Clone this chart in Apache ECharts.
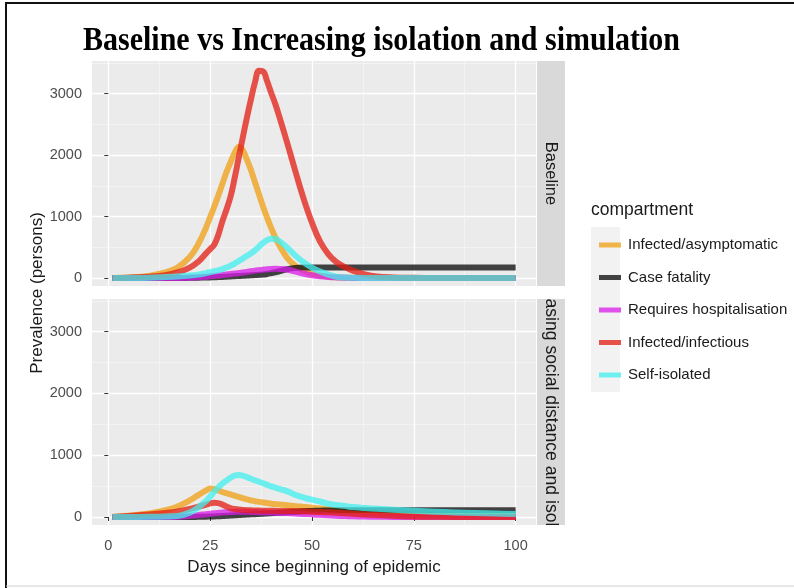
<!DOCTYPE html>
<html><head><meta charset="utf-8">
<script src="https://cdn.jsdelivr.net/npm/echarts@6/dist/echarts.min.js"></script>
<style>html,body{margin:0;padding:0;background:#fff}#c{width:794px;height:588px}</style>
</head><body><div id="c"></div>
<script>
// ---------- data ----------
const titleText = 'Baseline vs Increasing isolation and simulation';
const panels = ['Baseline', 'Increasing social distance and isolation'];
const compartments = ['Infected/asymptomatic', 'Case fatality', 'Requires hospitalisation', 'Infected/infectious', 'Self-isolated'];
const days = [1,5,10,14,17,20,22,24,25,26,27,28,29,30,31,32,33,34,35,36,37,38,39,40,41,42,44,46,48,50,52,54,56,58,60,63,66,70,75,80,85,90,95,100];

// Baseline panel
const baseAsymptomatic = [0,8,35,90,170,340,540,820,990,1160,1340,1530,1720,1880,2030,2130,2080,1930,1760,1560,1360,1160,980,810,660,530,320,195,120,70,40,22,12,6,3,0,0,0,0,0,0,0,0,0];
const baseFatality     = [0,0,0,0,0,3,5,8,10,12,15,18,21,25,29,33,36,40,44,48,52,56,66,80,94,110,145,165,172,172,172,172,172,172,172,172,172,172,172,172,172,172,172,172];
const baseHospital     = [0,0,0,0,0,5,12,22,28,34,40,48,56,64,72,80,90,100,110,120,128,136,143,148,150,148,135,105,70,45,28,17,10,5,2,0,0,0,0,0,0,0,0,0];
const baseInfectious   = [0,5,20,45,90,170,260,400,470,540,700,920,1110,1320,1620,1950,2280,2600,2900,3180,3370,3360,3200,3010,2830,2620,2180,1720,1280,900,590,390,260,180,120,60,25,10,3,0,0,0,0,0];
const baseIsolated     = [0,0,5,15,25,40,55,80,95,110,125,145,170,200,235,275,315,360,400,450,510,570,615,640,635,600,490,360,255,170,105,55,20,8,3,0,0,0,0,0,0,0,0,0];

// Increasing social distance and isolation panel
const incAsymptomatic = [0,20,55,110,170,270,350,430,460,450,430,405,385,365,345,325,305,285,270,255,245,235,225,215,208,202,190,175,163,150,137,125,113,102,92,80,70,58,46,36,29,23,18,15];
const incFatality     = [0,0,0,0,0,0,2,5,7,9,12,15,18,22,26,30,34,38,42,46,50,54,58,62,66,70,78,86,93,98,102,105,107,108,109,110,110,110,110,110,110,110,110,110];
const incHospital     = [0,0,0,0,5,18,30,45,52,60,66,72,76,80,82,84,84,83,82,80,78,76,74,72,70,68,63,57,50,42,34,27,20,14,10,6,3,1,0,0,0,0,0,0];
const incInfectious   = [0,15,40,65,90,130,165,200,220,230,225,200,170,145,130,120,115,110,108,105,103,102,101,100,99,98,96,94,92,85,80,75,68,60,52,40,30,18,8,3,0,0,0,0];
const incIsolated     = [0,0,2,6,15,70,150,260,330,410,480,540,590,635,670,680,670,645,620,595,570,545,520,495,475,455,415,355,315,280,250,215,195,180,160,145,132,118,100,85,73,63,56,50];

const xTicks = [0, 25, 50, 75, 100];
const xMinor = [12.5, 37.5, 62.5, 87.5];
const yTicks = [0, 1000, 2000, 3000];
const yMinor = [500, 1500, 2500, 3500];

const panelData = [
  [baseAsymptomatic, baseFatality, baseHospital, baseInfectious, baseIsolated],
  [incAsymptomatic, incFatality, incHospital, incInfectious, incIsolated]
];
const colors = ['rgba(239,159,18,0.75)', 'rgba(15,15,15,0.78)', 'rgba(218,25,231,0.75)', 'rgba(226,30,20,0.76)', 'rgba(66,239,239,0.75)'];

// ---------- layout ----------
const FONT = 'Liberation Sans, Arial, sans-serif';
const G = [{top: 61, height: 225}, {top: 299, height: 226}];
const LEFT = 92, WIDTH = 444;
const plain = v => String(v);

const grids = G.map(g => ({left: LEFT, top: g.top, width: WIDTH, height: g.height, show: true,
  backgroundColor: '#EBEBEB', borderWidth: 0, outerBoundsMode: 'none', containLabel: false}));

const xAxes = [], yAxes = [];
[0, 1].forEach(p => {
  xAxes.push({type: 'value', gridIndex: p, min: -4, max: 105, position: 'bottom',
    axisLine: {show: false},
    axisTick: {show: p === 1, length: 4, lineStyle: {color: '#333', width: 1}, customValues: xTicks},
    axisLabel: {show: p === 1, customValues: xTicks, formatter: plain, margin: 13, fontSize: 14.5, color: '#4d4d4d', fontFamily: FONT},
    splitLine: {show: true, lineStyle: {color: '#ffffff', width: 1.3}},
    name: p === 1 ? 'Days since beginning of epidemic' : '',
    nameLocation: 'middle', nameGap: 34,
    nameTextStyle: {fontSize: 17, color: '#1a1a1a', fontFamily: FONT}
  });
  yAxes.push({type: 'value', gridIndex: p, min: -130, max: 3530,
    axisLine: {show: false},
    axisTick: {show: true, length: 4, lineStyle: {color: '#333', width: 1}, customValues: yTicks},
    axisLabel: {customValues: yTicks, formatter: plain, margin: 10, fontSize: 14.5, color: '#4d4d4d', fontFamily: FONT},
    splitLine: {show: true, lineStyle: {color: '#ffffff', width: 1.3}}
  });
});
[0, 1].forEach(p => {
  xAxes.push({type: 'value', gridIndex: p, min: -4, max: 105, position: 'top',
    axisLine: {show: false}, axisLabel: {show: false},
    axisTick: {show: false, customValues: xMinor},
    splitLine: {show: true, lineStyle: {color: '#f7f7f7', width: 0.7}}
  });
  yAxes.push({type: 'value', gridIndex: p, min: -130, max: 3530, position: 'right',
    axisLine: {show: false}, axisLabel: {show: false},
    axisTick: {show: false, customValues: yMinor},
    splitLine: {show: true, lineStyle: {color: '#f7f7f7', width: 0.7}}
  });
});

const series = [];
[0, 1].forEach(p => {
  compartments.forEach((name, c) => {
    series.push({
      type: 'line', name: name, xAxisIndex: p, yAxisIndex: p,
      data: days.map((d, i) => [d, panelData[p][c][i]]),
      showSymbol: false, smooth: 0.4,
      color: colors[c],
      lineStyle: {width: 6, color: colors[c], cap: 'butt', join: 'round'},
      itemStyle: {color: colors[c]},
      emphasis: {disabled: true}, silent: true, animation: false
    });
  });
});

const stripX = 537, stripW = 28;
const graphic = [
  // bottom strip (drawn first, overflow covered)
  {type: 'rect', shape: {x: stripX, y: G[1].top, width: stripW, height: G[1].height}, style: {fill: '#D9D9D9'}, z: 1},
  {type: 'text', x: stripX + stripW / 2, y: G[1].top + G[1].height / 2, rotation: -Math.PI / 2, style: {text: panels[1], font: '17.6px "Liberation Sans", Arial, sans-serif', fill: '#1a1a1a', align: 'center', verticalAlign: 'middle'}, z: 2},
  // covers
  {type: 'rect', shape: {x: stripX - 1, y: G[0].top + G[0].height, width: stripW + 2, height: G[1].top - G[0].top - G[0].height}, style: {fill: '#fff'}, z: 3},
  {type: 'rect', shape: {x: stripX - 1, y: G[1].top + G[1].height, width: stripW + 2, height: 588 - G[1].top - G[1].height}, style: {fill: '#fff'}, z: 3},
  {type: 'rect', shape: {x: stripX - 1, y: 20, width: stripW + 2, height: G[0].top - 20}, style: {fill: '#fff'}, z: 3},
  // top strip
  {type: 'rect', shape: {x: stripX, y: G[0].top, width: stripW, height: G[0].height}, style: {fill: '#D9D9D9'}, z: 3},
  {type: 'text', x: stripX + stripW / 2, y: G[0].top + G[0].height / 2, rotation: -Math.PI / 2, style: {text: panels[0], font: '16.5px "Liberation Sans", Arial, sans-serif', fill: '#1a1a1a', align: 'center', verticalAlign: 'middle'}, z: 4},
  // outer frame
  {type: 'polyline', shape: {points: [[6, 588], [6, 3], [794, 3]]}, style: {stroke: '#111', lineWidth: 2, fill: null}, z: 10},
  {type: 'line', shape: {x1: 6, y1: 586, x2: 794, y2: 586}, style: {stroke: '#d0d0d0', lineWidth: 1}, z: 10},
  // title
  {type: 'text', x: 83, y: 41, scaleY: 1.1, style: {text: titleText, font: 'bold 30px "Liberation Serif", "Times New Roman", serif', fill: '#000', verticalAlign: 'middle'}, z: 10},
  // y axis title
  {type: 'text', x: 37, y: 293, rotation: Math.PI / 2, style: {text: 'Prevalence (persons)', font: '17px "Liberation Sans", Arial, sans-serif', fill: '#1a1a1a', align: 'center', verticalAlign: 'middle'}, z: 10},
  // legend title & key background
  {type: 'text', x: 591, y: 210, style: {text: 'compartment', font: '17.5px "Liberation Sans", Arial, sans-serif', fill: '#1a1a1a', verticalAlign: 'middle'}, z: 3},
  {type: 'rect', shape: {x: 591, y: 227, width: 29, height: 165}, style: {fill: '#F2F2F2'}, z: 0}
];

const chart = echarts.init(document.getElementById('c'), null, {renderer: 'canvas'});
chart.setOption({
  animation: false,
  backgroundColor: '#ffffff',
  grid: grids,
  xAxis: xAxes,
  yAxis: yAxes,
  legend: {
    orient: 'vertical', left: 594, top: 231, itemWidth: 22, itemHeight: 5, itemGap: 14.5,
    icon: 'rect', data: compartments, selectedMode: false,
    textStyle: {fontSize: 15, fontFamily: FONT, color: '#1a1a1a', lineHeight: 18, padding: [0, 0, 0, 2]}
  },
  series: series,
  graphic: graphic
});
</script>
</body></html>
